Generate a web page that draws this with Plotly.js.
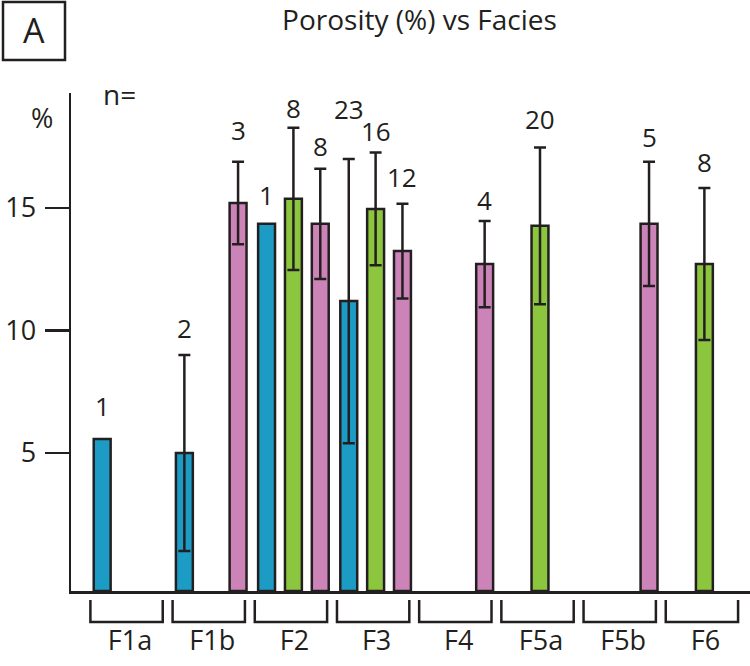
<!DOCTYPE html>
<html><head><meta charset="utf-8">
<script src="https://cdn.plot.ly/plotly-3.0.1.min.js"></script>
<style>html,body{margin:0;padding:0;background:#fff}#chart{width:750px;height:666px}</style>
</head><body><div id="chart"></div>
<script>
// ---- data ----
const facies = ['F1a','F1b','F2','F3','F4','F5a','F5b','F6'];
const blueFacies = ['F1a','F1b','F2','F3'];
const blueMean = [5.57, 5.0, 14.35, 11.2];
const blueErr = [null, 4.0, null, 5.8];
const blueN = [1, 2, 1, 23];
const greenFacies = ['F2','F3','F5a','F6'];
const greenMean = [15.37, 14.96, 14.27, 12.71];
const greenErr = [2.9, 2.3, 3.2, 3.1];
const greenN = [8, 16, 20, 8];
const pinkFacies = ['F1b','F2','F3','F4','F5b'];
const pinkMean = [15.2, 14.35, 13.24, 12.71, 14.35];
const pinkErr = [1.68, 2.25, 1.93, 1.76, 2.53];
const pinkN = [3, 8, 12, 4, 5];
const yTickVals = [5, 10, 15];
const yTickText = ['5', '10', '15'];

// ---- layout constants ----
const W = 750, H = 666;
const M = {l: 71, r: 0, t: 93, b: 75};
const PW = W - M.l - M.r, PH = H - M.t - M.b;
const Y_MIN = -0.63, Y_MAX = 19.69;
const X_MIN = -0.706, X_MAX = 7.555;
const BARGAP = 0.02, BARGROUPGAP = 0.37;
const INK = '#231f20';
const FONT = '"Open Sans", "Noto Sans", sans-serif';
const COLORS = {blue: '#1c9cc4', green: '#8cc63f', pink: '#cc84b8'};
// label lift (px) above error-bar top, per bar
const blueLift = [33, 27, 29, 50];
const greenLift = [20, 22, 28, 26];
const pinkLift = [32, 23, 27, 21, 25];

const px2x = px => (px - M.l) / PW;
const px2y = py => (M.t + PH - py) / PH;
const catPx = PW / (X_MAX - X_MIN);
const slotPx = catPx * (1 - BARGAP) / 3;

function barTrace(name, xs, means, errs, color) {
  return {
    type: 'bar', name: name, x: xs,
    y: means.map(v => v - Y_MIN), base: Y_MIN,
    marker: {color: color, line: {color: INK, width: 2.5}},
    error_y: {type: 'data', symmetric: true,
      array: errs.map(e => (e === null ? NaN : e)),
      color: INK, thickness: 2.5, width: 6, visible: true},
    hoverinfo: 'skip', showlegend: false
  };
}

const traces = [
  barTrace('blue', blueFacies, blueMean, blueErr, COLORS.blue),
  barTrace('green', greenFacies, greenMean, greenErr, COLORS.green),
  barTrace('pink', pinkFacies, pinkMean, pinkErr, COLORS.pink)
];

const annotations = [];
function nLabels(xs, means, errs, ns, lifts, slot) {
  xs.forEach((f, i) => {
    annotations.push({
      x: f, xref: 'x', y: means[i] + (errs[i] || 0), yref: 'y',
      text: String(ns[i]), showarrow: false, yanchor: 'middle', xanchor: 'center',
      xshift: (slot - 1) * slotPx, yshift: lifts[i],
      font: {family: FONT, size: 26, color: INK}
    });
  });
}
nLabels(blueFacies, blueMean, blueErr, blueN, blueLift, 0);
nLabels(greenFacies, greenMean, greenErr, greenN, greenLift, 1);
nLabels(pinkFacies, pinkMean, pinkErr, pinkN, pinkLift, 2);

annotations.push({xref: 'paper', yref: 'paper', x: px2x(119), y: px2y(94),
  text: 'n=', showarrow: false, xanchor: 'center', yanchor: 'middle',
  font: {family: FONT, size: 28, color: INK}});
annotations.push({xref: 'paper', yref: 'paper', x: px2x(42), y: px2y(117),
  text: '%', showarrow: false, xanchor: 'center', yanchor: 'middle',
  font: {family: FONT, size: 27, color: INK}});
annotations.push({xref: 'paper', yref: 'paper', x: px2x(34), y: px2y(30),
  text: 'A', showarrow: false, xanchor: 'center', yanchor: 'middle',
  font: {family: FONT, size: 34, color: INK}});

const shapes = [];
// panel box
shapes.push({type: 'rect', xref: 'paper', yref: 'paper',
  x0: px2x(3), x1: px2x(65), y0: px2y(2), y1: px2y(60),
  line: {color: INK, width: 2.5}, fillcolor: 'rgba(0,0,0,0)'});
// category brackets
const bTop = px2y(600), bBot = px2y(622), half = 0.44;
facies.forEach((f, i) => {
  const c = i - 0.03;
  shapes.push({type: 'path', xref: 'x', yref: 'paper',
    path: `M ${c - half},${bTop} L ${c - half},${bBot} L ${c + half},${bBot} L ${c + half},${bTop}`,
    line: {color: INK, width: 2.5}});
});

const layout = {
  width: W, height: H, margin: M,
  paper_bgcolor: '#fff', plot_bgcolor: '#fff',
  barmode: 'group', bargap: BARGAP, bargroupgap: BARGROUPGAP,
  showlegend: false,
  title: {text: 'Porosity (%) vs Facies', x: 419.5 / W, xref: 'container', xanchor: 'center',
    y: 1 - 20 / H, yref: 'container', yanchor: 'middle',
    font: {family: FONT, size: 28, color: INK}},
  xaxis: {type: 'category', categoryorder: 'array', categoryarray: facies,
    range: [X_MIN, X_MAX], showline: true, linewidth: 2.5, linecolor: INK,
    ticks: '', showgrid: false, zeroline: false, fixedrange: true,
    tickfont: {family: FONT, size: 27, color: INK},
    ticklabelstandoff: 24, ticklabelshift: 1},
  yaxis: {range: [Y_MIN, Y_MAX], tickmode: 'array', tickvals: yTickVals, ticktext: yTickText,
    showline: true, linewidth: 2.5, linecolor: INK, ticks: 'outside', ticklen: 24, tickwidth: 2.5,
    tickcolor: INK, showgrid: false, zeroline: false, fixedrange: true,
    tickfont: {family: FONT, size: 27, color: INK}, ticklabelstandoff: 3},
  annotations: annotations, shapes: shapes
};

Plotly.newPlot('chart', traces, layout, {staticPlot: true, displayModeBar: false});
</script>
</body></html>
